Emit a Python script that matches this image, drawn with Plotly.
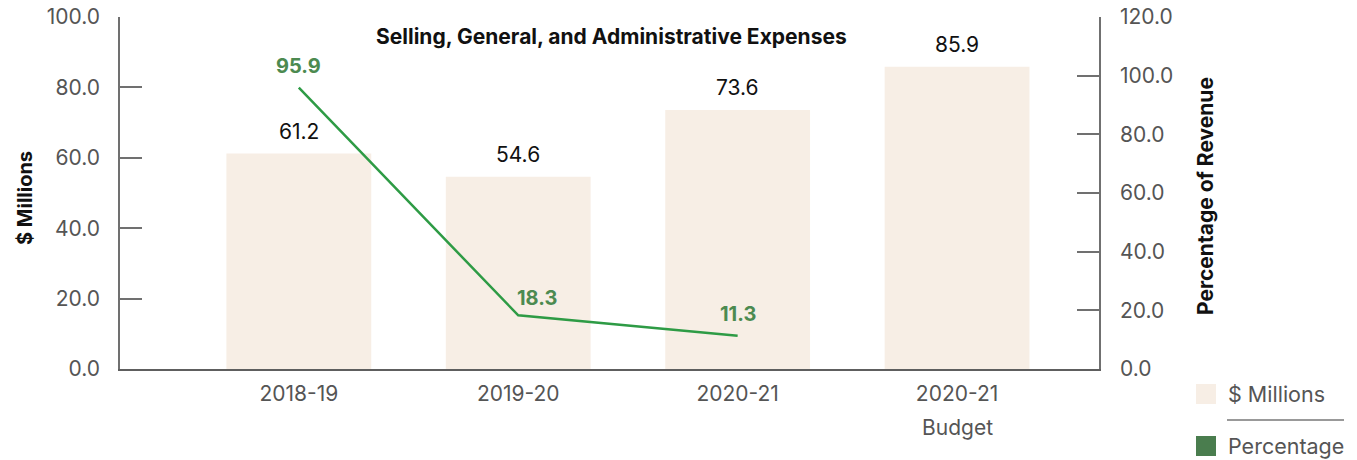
import plotly.graph_objects as go

# Data
categories = ["2018-19", "2019-20", "2020-21", "2020-21 Budget"]
tick_text = ["2018-19", "2019-20", "2020-21", "2020-21"]
sga_millions = [61.2, 54.6, 73.6, 85.9]
pct_categories = ["2018-19", "2019-20", "2020-21"]
pct_of_revenue = [95.9, 18.3, 11.3]
pct_label_dx = [0, 19, 0]
pct_label_dy = [22, 17, 22]

left_ticks = [0, 20, 40, 60, 80, 100]
right_ticks = [0, 20, 40, 60, 80, 100, 120]

W, H = 1357, 460
L, R, T, B = 120, 1099, 17, 369  # plot area in pixels

FONT = "Inter"
BAR_COLOR = "#F7EEE5"
LINE_COLOR = "#2E9B45"
LABEL_GREEN = "#4C8A50"
LEGEND_GREEN = "#4A7D4E"
AXIS_COLOR = "#5E5E5E"
TICK_FONT = dict(family=FONT, size=21, color="#555555")


def px_x(x):
    return (x - L) / (R - L)


def px_y(y):
    return (B - y) / (B - T)


fig = go.Figure()

fig.add_trace(go.Bar(
    x=categories, y=sga_millions, name="$ Millions",
    marker=dict(color=BAR_COLOR, line=dict(width=0)),
    width=0.66,
    yaxis="y",
))

fig.add_trace(go.Scatter(
    x=pct_categories, y=pct_of_revenue, name="Percentage",
    mode="lines",
    line=dict(color=LINE_COLOR, width=2.5),
    cliponaxis=False,
    yaxis="y2",
))

fig.update_layout(
    width=W, height=H,
    margin=dict(l=L, r=W - R, t=T, b=H - B, pad=0, autoexpand=False),
    paper_bgcolor="white", plot_bgcolor="white",
    showlegend=False,
    xaxis=dict(
        type="category",
        range=[-0.815, 3.647],
        tickvals=categories, ticktext=tick_text,
        showgrid=False, zeroline=False,
        showline=True, linecolor=AXIS_COLOR, linewidth=2,
        ticks="", tickfont=TICK_FONT, ticklabelstandoff=5,
        automargin=False,
    ),
    yaxis=dict(
        range=[0, 100], tickvals=left_ticks, tickformat=".1f",
        showgrid=False, zeroline=False,
        showline=True, linecolor="#707070", linewidth=1.5,
        ticks="inside", ticklen=22, tickcolor="#707070", tickwidth=1.5,
        tickfont=TICK_FONT, ticklabelstandoff=14, automargin=False,
    ),
    yaxis2=dict(
        range=[0, 120], tickvals=right_ticks, tickformat=".1f",
        overlaying="y", side="right",
        showgrid=False, zeroline=False,
        showline=True, linecolor="#707070", linewidth=1.5,
        ticks="inside", ticklen=22, tickcolor="#707070", tickwidth=1.5,
        tickfont=TICK_FONT, ticklabelstandoff=15, automargin=False,
    ),
)

annotations = []

# Value labels above bars
for cat, v in zip(categories, sga_millions):
    annotations.append(dict(
        text=f"{v:.1f}", x=cat, y=v, xref="x", yref="y",
        yshift=22, xanchor="center", yanchor="middle", showarrow=False,
        font=dict(family=FONT, size=21, color="#111111")))

# Percentage labels
for cat, v, dx, dy in zip(pct_categories, pct_of_revenue, pct_label_dx, pct_label_dy):
    annotations.append(dict(
        text=f"<b>{v:.1f}</b>", x=cat, y=v, xref="x", yref="y2",
        xshift=dx, yshift=dy, xanchor="center", yanchor="middle",
        showarrow=False,
        font=dict(family=FONT, size=20, color=LABEL_GREEN)))

# Second line of the budget tick label
annotations.append(dict(
    text="Budget", x=categories[3], y=px_y(427), xref="x", yref="paper",
    xanchor="center", yanchor="middle", showarrow=False,
    font=TICK_FONT))

annotations += [
    dict(text="<b>Selling, General, and Administrative Expenses</b>",
         x=px_x(611), y=px_y(37), xref="paper", yref="paper",
         xanchor="center", yanchor="middle", showarrow=False,
         font=dict(family=FONT, size=21, color="#111111")),
    dict(text="<b>$ Millions</b>", textangle=-90,
         x=px_x(25), y=px_y(198), xref="paper", yref="paper",
         xanchor="center", yanchor="middle", showarrow=False,
         font=dict(family=FONT, size=20, color="#111111")),
    dict(text="<b>Percentage of Revenue</b>", textangle=-90,
         x=px_x(1205), y=px_y(196), xref="paper", yref="paper",
         xanchor="center", yanchor="middle", showarrow=False,
         font=dict(family=FONT, size=21, color="#111111")),
    dict(text="$ Millions",
         x=px_x(1226), y=px_y(394), xref="paper", yref="paper",
         xanchor="left", yanchor="middle", showarrow=False,
         font=dict(family=FONT, size=21.5, color="#555555")),
    dict(text="Percentage",
         x=px_x(1226), y=px_y(446), xref="paper", yref="paper",
         xanchor="left", yanchor="middle", showarrow=False,
         font=dict(family=FONT, size=21.5, color="#555555")),
]
fig.update_layout(annotations=annotations)

# Legend swatches and separator
fig.add_shape(type="rect", xref="paper", yref="paper",
              x0=px_x(1196), x1=px_x(1216), y0=px_y(404), y1=px_y(384),
              fillcolor=BAR_COLOR, line=dict(width=0))
fig.add_shape(type="rect", xref="paper", yref="paper",
              x0=px_x(1196), x1=px_x(1216), y0=px_y(456), y1=px_y(436),
              fillcolor=LEGEND_GREEN, line=dict(width=0))
fig.add_shape(type="line", xref="paper", yref="paper",
              x0=px_x(1227), x1=px_x(1344), y0=px_y(420), y1=px_y(420),
              line=dict(color="#777777", width=1.5))

fig.write_html("out.html")
